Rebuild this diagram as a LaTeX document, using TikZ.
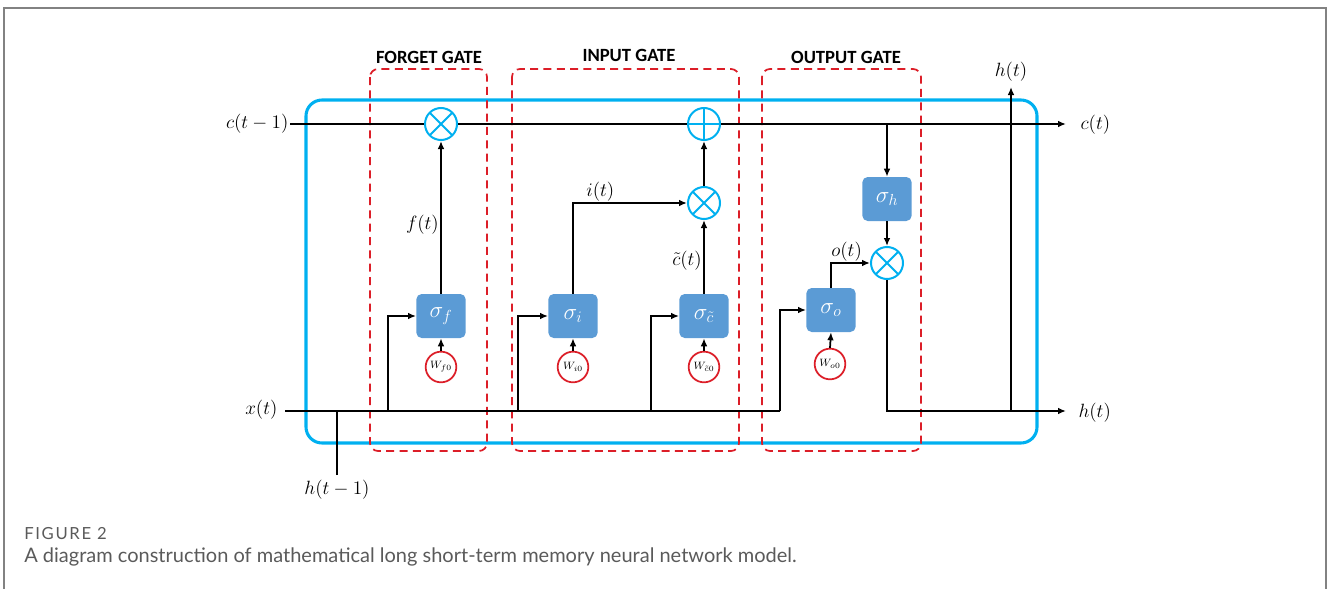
\documentclass[tikz,border=0pt]{standalone}
\usepackage{fontspec}
\newfontfamily\gatefont{Carlito}
\newfontfamily\capfont{Lato}
\newfontfamily\capfontsp[LetterSpace=10]{Lato}
\usetikzlibrary{arrows.meta}
\definecolor{cyanb}{RGB}{0,176,240}
\definecolor{gatered}{RGB}{220,30,40}
\definecolor{boxblue}{RGB}{91,155,213}
\definecolor{framegray}{RGB}{130,130,130}
\definecolor{capgray}{RGB}{90,90,90}
\begin{document}
\begin{tikzpicture}[x=0.75pt,y=-0.75pt,
  wire/.style={line width=1.3pt,black},
  arr/.style={wire,-{Latex[length=6pt,width=5pt]}},
  sbox/.style={fill=boxblue,rounded corners=4pt,minimum width=37pt,minimum height=33pt,inner sep=0pt,text=white,font=\fontsize{18}{20}\selectfont},
  wcirc/.style={circle,draw=gatered,line width=1.3pt,fill=white,minimum size=23pt,inner sep=0pt,font=\fontsize{8.5}{10}\selectfont},
  opc/.style={circle,draw=cyanb,line width=1.5pt,minimum size=24pt,inner sep=0pt,fill=white},
  mul/.style={opc,path picture={\draw[cyanb,line width=1.5pt]
     (path picture bounding box.south west)--(path picture bounding box.north east)
     (path picture bounding box.north west)--(path picture bounding box.south east);}},
  add/.style={opc,path picture={\draw[cyanb,line width=1.5pt]
     (path picture bounding box.south)--(path picture bounding box.north)
     (path picture bounding box.west)--(path picture bounding box.east);}},
  gate/.style={draw=gatered,dashed,dash pattern=on 6pt off 4pt,line width=1.3pt,rounded corners=6pt},
  gtitle/.style={font=\gatefont\bfseries\fontsize{14}{16}\selectfont},
  lbl/.style={font=\fontsize{15}{18}\selectfont,inner sep=1pt}
]
\useasboundingbox (0,0) rectangle (1328,589);
% page frame
\draw[framegray,line width=1.5pt] (4,600) -- (4,8) -- (1326,8) -- (1326,600);

% blue cell
\draw[cyanb,line width=2.3pt,rounded corners=12pt] (306,100) rectangle (1037,443);

% gates
\draw[gate] (370,69) rectangle (487,451);
\draw[gate] (512,69) rectangle (739,451);
\draw[gate] (762,69) rectangle (921,451);
\node[gtitle] (tf) at (429,57) {FORGET GATE};
\node[gtitle] (ti) at (629,55) {INPUT GATE};
\node[gtitle] (to) at (846,57) {OUTPUT GATE};

% sigma boxes
\node[sbox] (sf) at (441,316) {$\sigma_f$};
\node[sbox] (si) at (573,316) {$\sigma_i$};
\node[sbox] (sc) at (704,316) {$\sigma_{\tilde c}$};
\node[sbox] (so) at (831,310) {$\sigma_o$};
\node[sbox] (sh) at (887,199) {$\sigma_h$};

% weight circles
\node[wcirc] (wf) at (441,367) {$W_{f0}$};
\node[wcirc] (wi) at (573,367) {$W_{i0}$};
\node[wcirc] (wc) at (704,367) {$W_{\tilde c0}$};
\node[wcirc] (wo) at (830,364) {$W_{o0}$};

% coordinates
\coordinate (cin) at (290,124);
\coordinate (cout) at (1066,124);
\coordinate (xin) at (285,411);
\coordinate (xend) at (780,411);
\coordinate (hbot) at (337,475);
\coordinate (hj) at (337,411);
\coordinate (b1) at (388,411);
\coordinate (b2) at (518,411);
\coordinate (b3) at (651,411);
\coordinate (hout) at (1066,411);
\coordinate (hsplit) at (1011,411);
\coordinate (htop) at (1011,87);
\coordinate (shtap) at (887,124);

% cell state line with operators
\node[mul] (mf) at (441,124) {};
\node[add] (pa) at (704,124) {};
\node[mul] (mi) at (704,203) {};
\node[mul] (mo) at (887,263) {};

\draw[wire] (cin) -- (mf.west);
\draw[wire] (mf.east) -- (pa.west);
\draw[arr] (pa.east) -- (cout);
\draw[arr] (shtap) -- (sh.north);
\draw[arr] (sh.south) -- (mo.north);

% x(t) line
\draw[wire] (xin) -- (xend);
\draw[wire] (hbot) -- (hj);
\draw[arr] (b1) |- (sf.west);
\draw[arr] (b2) |- (si.west);
\draw[arr] (b3) |- (sc.west);
\draw[arr] (xend) |- (so.west);

% gate outputs
\draw[arr] (sf.north) -- node[lbl,left,pos=0.45] {$f(t)$} (mf.south);
\draw[arr] (si.north) |- node[lbl,above,pos=0.62] {$i(t)$} (mi.west);
\draw[arr] (sc.north) -- node[lbl,left,pos=0.45] {$\tilde c(t)$} (mi.south);
\draw[arr] (mi.north) -- (pa.south);
\draw[arr] (so.north) |- node[lbl,above,pos=0.7] {$o(t)$} (mo.west);

% weights
\draw[arr] (wf.north) -- (sf.south);
\draw[arr] (wi.north) -- (si.south);
\draw[arr] (wc.north) -- (sc.south);
\draw[arr] (wo.north) -- (so.south);

% output h(t)
\draw[arr] (mo.south) |- (hout);
\draw[arr] (hsplit) -- (htop);

% labels
\node[lbl,anchor=east] (lc1) at (cin) {$c(t-1)$};
\node[lbl,anchor=east] (lx) at (279,410) {$x(t)$};
\node[lbl] (lh1) at (337,490) {$h(t-1)$};
\node[lbl,anchor=west] (lc) at (1079,125) {$c(t)$};
\node[lbl,anchor=west] (lh) at (1077,413) {$h(t)$};
\node[lbl] (lht) at (1011,72) {$h(t)$};

% caption
\node[anchor=west,text=capgray,font=\capfontsp\fontsize{12.5}{14}\selectfont,inner sep=0pt] (fig) at (24,534) {FIGURE 2};
\node[anchor=west,text=capgray,font=\capfont\fontsize{15}{17}\selectfont,inner sep=0pt] (cap) at (24,557) {A diagram construction of mathematical long short-term memory neural network model.};
\end{tikzpicture}
\end{document}
